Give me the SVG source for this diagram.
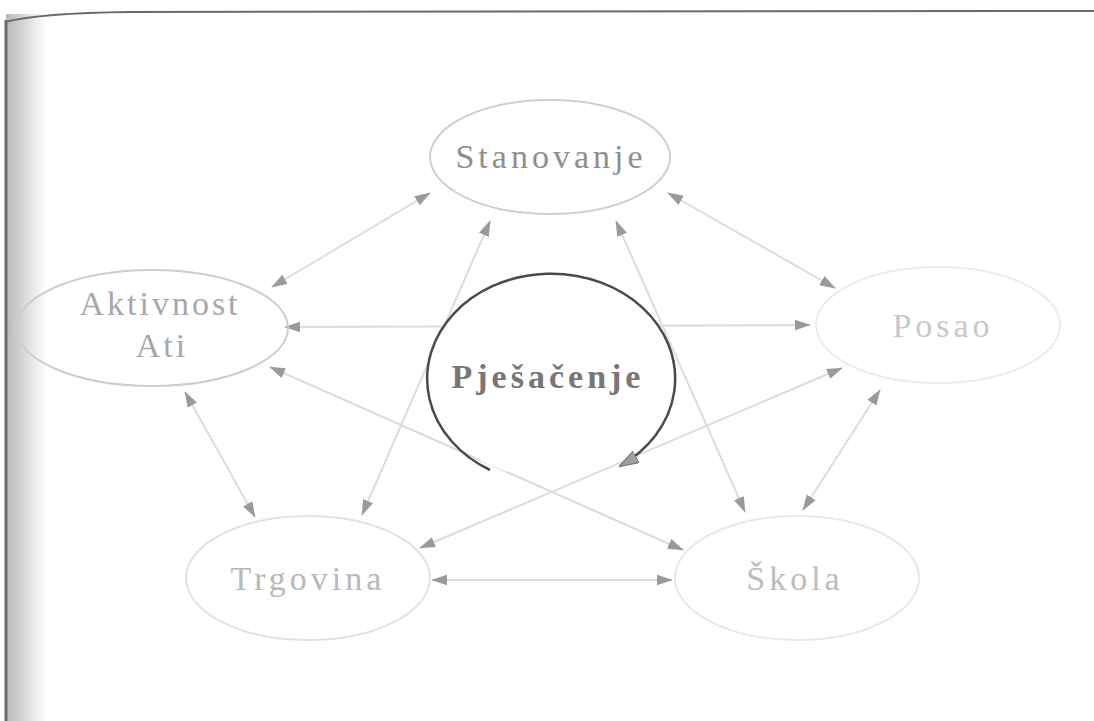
<svg xmlns="http://www.w3.org/2000/svg" width="1094" height="721" viewBox="0 0 1094 721">
  <defs>
    <linearGradient id="leftShade" x1="0" y1="0" x2="1" y2="0">
      <stop offset="0" stop-color="#b8b8b8"/>
      <stop offset="1" stop-color="#ffffff"/>
    </linearGradient>
    <marker id="ah" viewBox="0 0 18 12" markerWidth="16" markerHeight="11" refX="17" refY="6" orient="auto-start-reverse" markerUnits="userSpaceOnUse">
      <path d="M0,0 L18,6 L0,12 z" fill="#9a9a9a"/>
    </marker>
    <marker id="ahDark" viewBox="0 0 18 12" markerWidth="20" markerHeight="13" refX="17" refY="6" orient="auto" markerUnits="userSpaceOnUse">
      <path d="M0,0 L18,6 L0,12 z" fill="#a0a0a0" stroke="#777" stroke-width="1"/>
    </marker>
    <style>
      .conn { stroke: #dcdcdc; stroke-width: 2; fill: none; marker-start: url(#ah); marker-end: url(#ah); }
      .lbl { font-family: "Liberation Serif", "DejaVu Serif", serif; font-size: 34px; text-anchor: middle; letter-spacing: 4px; }
      .ell { fill: none; stroke-width: 2; }
    </style>
  </defs>

  <rect x="0" y="0" width="1094" height="721" fill="#ffffff"/>
  <rect x="6" y="14" width="40" height="707" fill="url(#leftShade)"/>
  <line x1="6" y1="20" x2="6" y2="721" stroke="#6a6a6a" stroke-width="3"/>
  <path d="M5,22 Q40,13 130,12 L1094,11" fill="none" stroke="#6a6a6a" stroke-width="2"/>

  <g id="connectors">
    <line class="conn" x1="272" y1="287" x2="430" y2="193"/>
    <line class="conn" x1="668" y1="193" x2="835" y2="288"/>
    <line class="conn" x1="362" y1="515" x2="490" y2="221"/>
    <line class="conn" x1="616" y1="221" x2="745" y2="512"/>
    <line class="conn" x1="285" y1="327" x2="810" y2="325"/>
    <line class="conn" x1="270" y1="367" x2="683" y2="550"/>
    <line class="conn" x1="842" y1="368" x2="420" y2="548"/>
    <line class="conn" x1="880" y1="390" x2="803" y2="510"/>
    <line class="conn" x1="185" y1="392" x2="255" y2="517"/>
    <line class="conn" x1="432" y1="580" x2="672" y2="580"/>
  </g>

  <g id="node-stanovanje">
    <ellipse class="ell" cx="550" cy="157" rx="120" ry="57" stroke="#cfcfcf"/>
    <text class="lbl" x="551" y="168" fill="#8e8e8e">Stanovanje</text>
  </g>

  <g id="node-aktivnost">
    <ellipse class="ell" cx="152" cy="328" rx="136" ry="58" stroke="#cdcdcd"/>
    <text class="lbl" x="160" y="315" fill="#a8a8a8" style="letter-spacing:3px">Aktivnost</text>
    <text class="lbl" x="162" y="357" fill="#a8a8a8" style="letter-spacing:3px">Ati</text>
  </g>

  <g id="node-posao">
    <ellipse class="ell" cx="938" cy="325" rx="122" ry="58" stroke="#ececec"/>
    <text class="lbl" x="943" y="337" fill="#c8c8c8">Posao</text>
  </g>

  <g id="node-trgovina">
    <ellipse class="ell" cx="308" cy="578" rx="122" ry="62" stroke="#e2e2e2"/>
    <text class="lbl" x="308" y="590" fill="#b8b8b8">Trgovina</text>
  </g>

  <g id="node-skola">
    <ellipse class="ell" cx="797" cy="578" rx="122" ry="62" stroke="#e8e8e8"/>
    <text class="lbl" x="795" y="590" fill="#bcbcbc">Škola</text>
  </g>

  <g id="node-pjesacenje">
    <ellipse cx="551" cy="378" rx="124" ry="100" fill="#ffffff" stroke="none"/>
    <path d="M490,470 A124,105 0 1 1 620,466" fill="none" stroke="#4a4a4a" stroke-width="2.5" marker-end="url(#ahDark)"/>
    <text class="lbl" x="548" y="388" fill="#777777" font-weight="bold">Pješačenje</text>
  </g>
</svg>
